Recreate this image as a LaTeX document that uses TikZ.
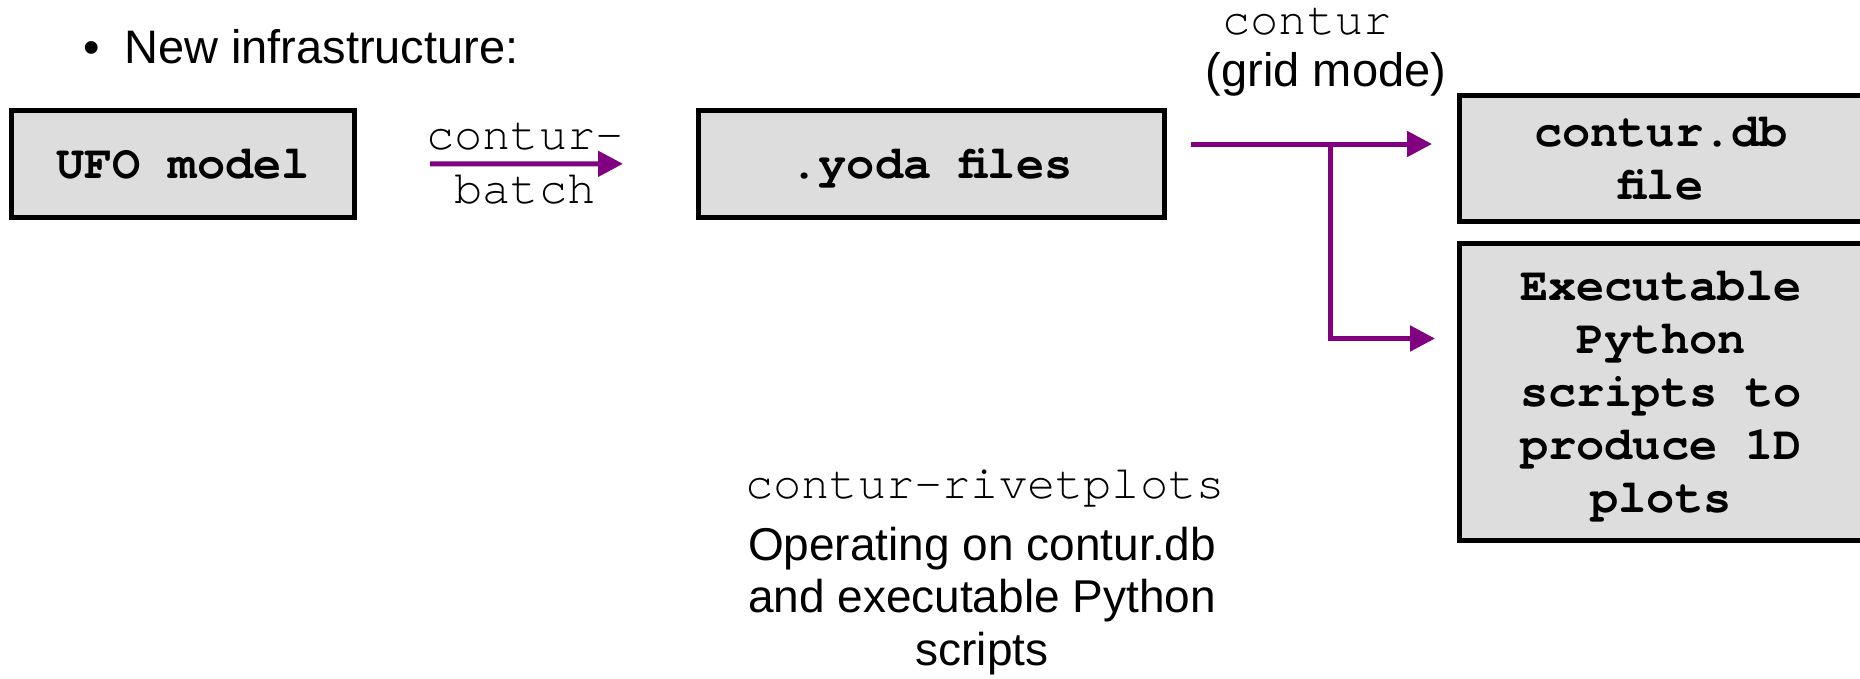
\documentclass[tikz,border=0pt]{standalone}
\usepackage{fontspec}
\setmainfont{Liberation Sans}
\setmonofont{TeX Gyre Cursor}
\usetikzlibrary{arrows.meta}
\definecolor{arrowpurple}{HTML}{800080}
\definecolor{boxgray}{HTML}{DDDDDD}
\tikzset{
  box/.style={draw=black, line width=5pt, fill=boxgray, outer sep=0pt, inner sep=0pt,
    align=center, font=\ttfamily\bfseries\fontsize{47}{53}\selectfont},
  parrow/.style={draw=arrowpurple, line width=5pt, line join=miter,
    -{Triangle[length=25pt,width=25pt]}},
  mono/.style={inner sep=0pt, align=center, font=\ttfamily\fontsize{47}{54}\selectfont},
  sans/.style={inner sep=0pt, align=center, font=\fontsize{47}{52.5}\selectfont}
}
\begin{document}
\begin{tikzpicture}[x=1pt,y=-1pt]
\useasboundingbox (0,0) rectangle (1860,678);
\clip (0,0) rectangle (1860,678);

% boxes
\node[box, text depth=0pt, minimum width=343pt, minimum height=107pt] (ufo) at (183,164) {UFO model};
\node[box, text depth=0pt, minimum width=466pt, minimum height=107.5pt] (yoda) at (931.5,163.75) {.yoda files};
\node[box, minimum width=403pt, minimum height=126pt] (db) at (1661,158.5) {contur.db\\file};
\node[box, text depth=0pt, minimum width=403pt, minimum height=297pt] (ex) at (1661,392) {Executable\\Python\\scripts to\\produce 1D\\plots};

% texts (base anchor = baseline of the last line)
\node[sans, anchor=base] (bul) at (92,63) {\textbullet};
\node[sans, anchor=base west] (title) at (124,63) {New infrastructure:};
\node[mono, anchor=base] (cb) at (525,203) {contur-\\batch};
\node[mono, anchor=base] (cg1) at (1307,34) {contur};
\node[sans, anchor=base] (cg2) at (1326,86) {(grid mode)};
\node[mono, anchor=base] (rp) at (985,498) {contur-rivetplots};
\node[sans, anchor=base, font=\fontsize{46}{52.5}\selectfont] (op) at (982,665) {Operating on contur.db\\and executable Python\\scripts};

% connectors
\draw[parrow, shorten <=75.5pt, shorten >=75.5pt] (ufo.east) -- (yoda.west);
\coordinate (b1) at (1330.5,144);
\coordinate (b2) at (1330.5,338.5);
\draw[parrow, shorten <=26.5pt, shorten >=27.5pt] (yoda.east |- b1) -- (db.west |- b1);
\draw[parrow, shorten >=24.5pt] (b1) -- (b2) -- (ex.west |- b2);
\end{tikzpicture}
\end{document}
